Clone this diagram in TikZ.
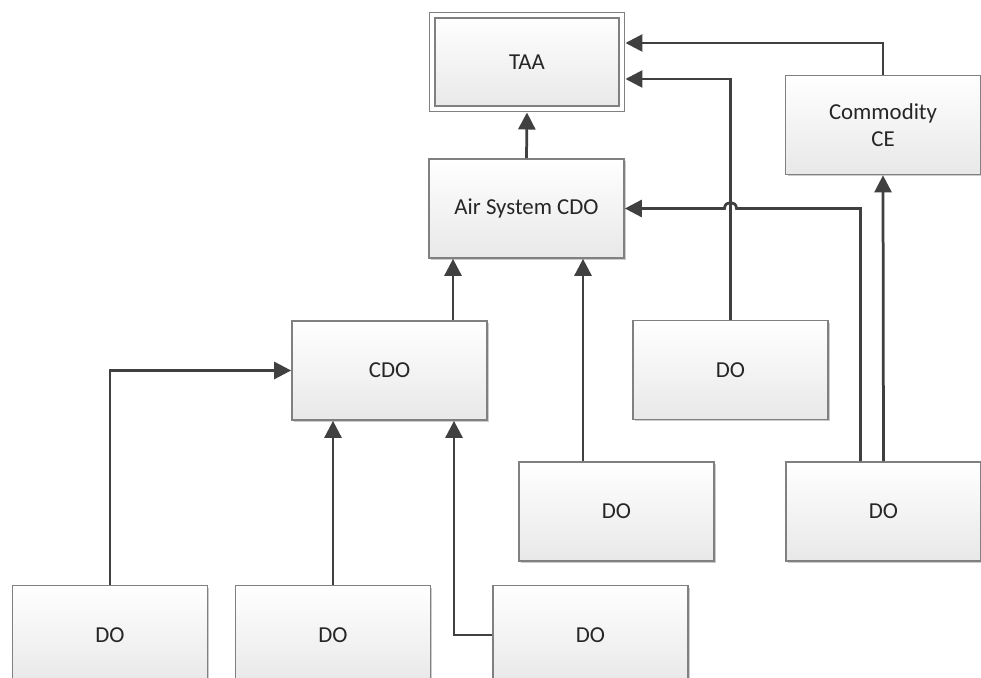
\documentclass[tikz,border=0pt]{standalone}
\usepackage{fontspec}
\setmainfont{Carlito}
\usetikzlibrary{arrows.meta,calc,shadows}
\definecolor{linegray}{HTML}{404040}
\definecolor{boxgray}{HTML}{808080}
\tikzset{
  unit/.style={draw=boxgray, line width=0.035cm, top color=white, bottom color=black!9,
    minimum width=3.9cm, minimum height=1.98cm, inner sep=0pt, align=center,
    font=\fontsize{13}{15.5}\selectfont, text=black!85,
    drop shadow={shadow xshift=0.04cm, shadow yshift=-0.04cm, opacity=0.2, fill=black}},
  topunit/.style={unit, line width=0.03cm, double=white, double distance=0.08cm,
    minimum width=3.8cm, minimum height=1.88cm, outer sep=0.07cm},
  link/.style={draw=linegray, line width=0.055cm, -{Triangle[length=0.34cm,width=0.34cm]}},
}

\begin{document}
\begin{tikzpicture}[x=0.02cm, y=-0.02cm]
\useasboundingbox (0,0) rectangle (981,678);
\clip (0,0) rectangle (981,678);

\node[topunit] (taa) at (527,62) {TAA};
\node[unit] (air) at (526.5,208.5) {Air System CDO};
\node[unit] (ce) at (883,125) {Commodity\\CE};
\node[unit] (cdo) at (389.5,370.5) {CDO};
\node[unit] (do1) at (730.5,370) {DO};
\node[unit] (do2) at (616.5,511.5) {DO};
\node[unit] (do3) at (883.5,511.5) {DO};
\node[unit] (do4) at (110,635) {DO};
\node[unit] (do5) at (333,635) {DO};
\node[unit] (do6) at (590.5,635) {DO};

\draw[link] (air.north) -- (taa.south);
\draw[link] (ce.north) |- ($(taa.east)+(0,-19)$);
\draw[link] (do1.north) |- ($(taa.east)+(0,17)$);
\coordinate (hop) at (do1.north |- air.east);
\draw[link] ($(do3.north)+(-23,0)$) |- ($(hop)+(6,0)$) .. controls +(0,-8) and +(0,-8) .. ($(hop)+(-6,0)$) -- (air.east);
\draw[link] (do3.north) -- (ce.south);

\draw[link] ($(cdo.north)+(63.5,0)$) coordinate (c1) -- (c1 |- air.south);
\draw[link] ($(do2.north)+(-33.5,0)$) coordinate (c2) -- (c2 |- air.south);

\draw[link] (do4.north) |- (cdo.west);
\draw[link] (do5.north) -- (do5.north |- cdo.south);
\draw[link] (do6.west) -| ($(cdo.south)+(64.5,0)$);
\end{tikzpicture}
\end{document}
